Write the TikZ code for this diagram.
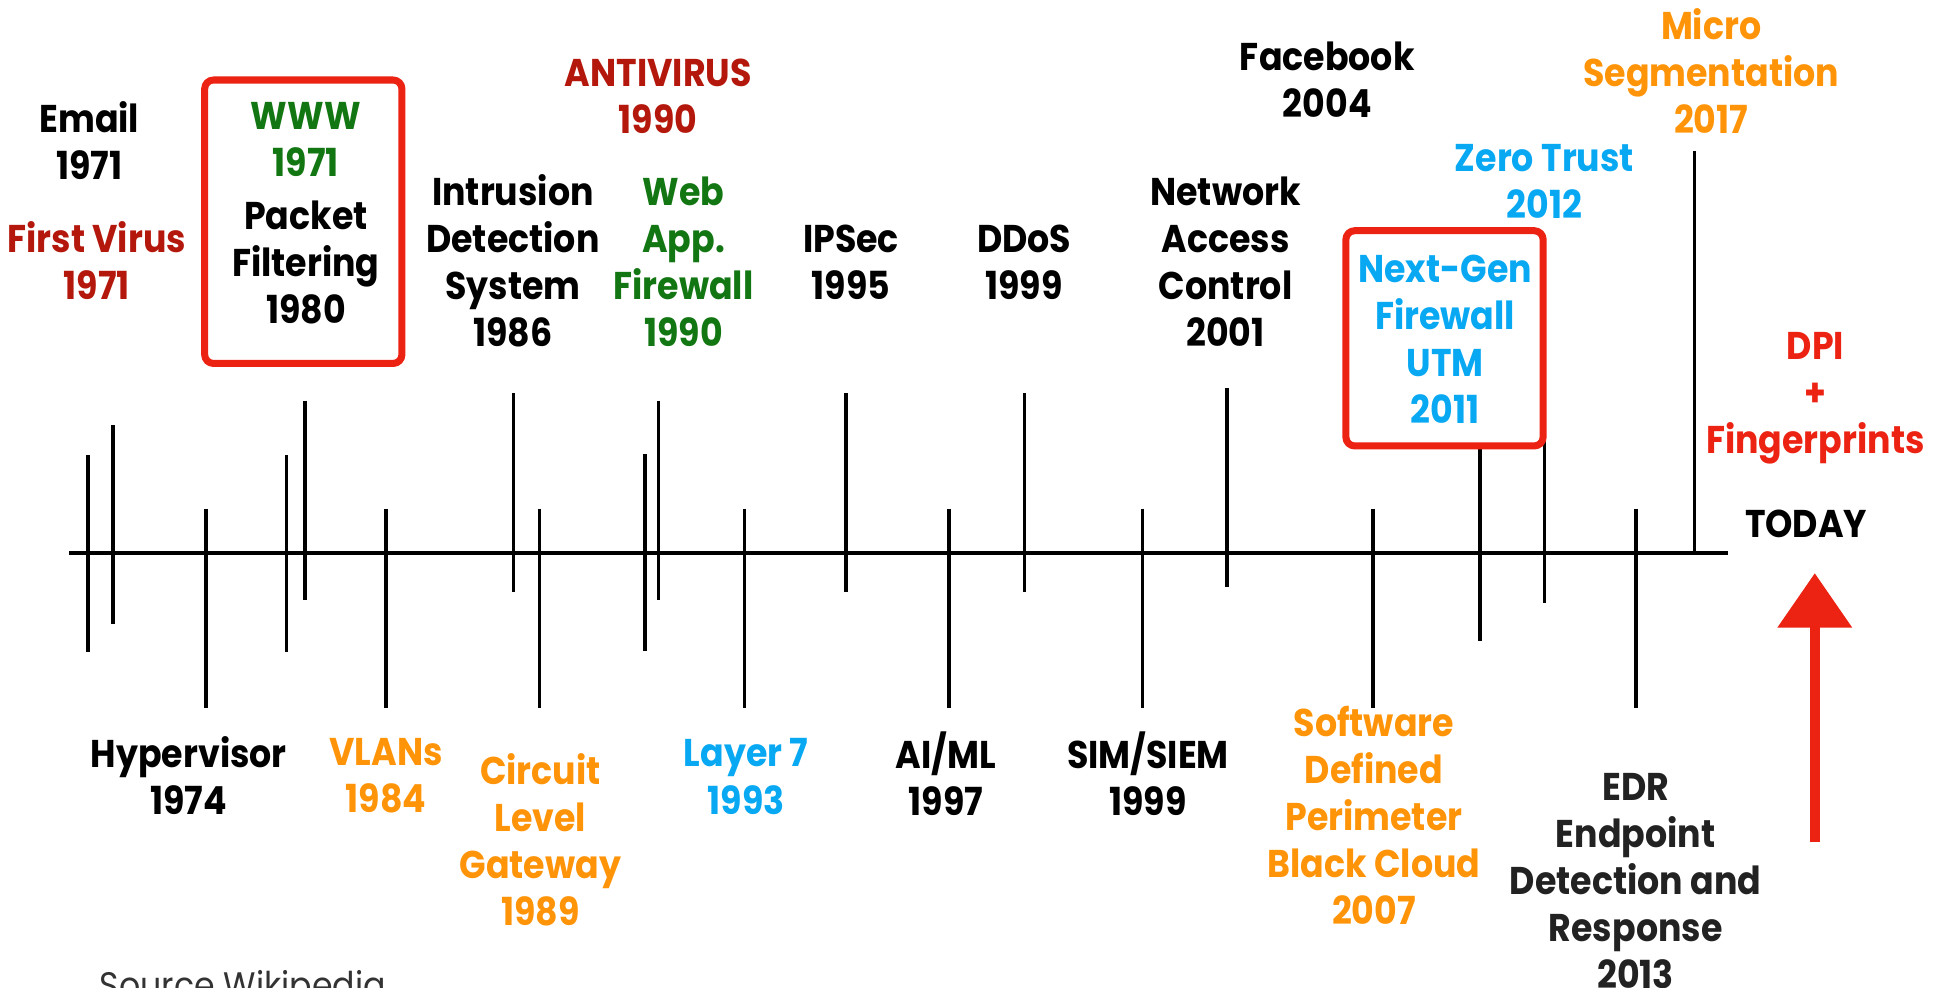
\documentclass[tikz,border=0pt]{standalone}
\usepackage{fontspec}
\setmainfont{Poppins}[FakeStretch=0.9]
\usetikzlibrary{arrows.meta}
\definecolor{virusred}{RGB}{180,24,12}
\definecolor{webgreen}{RGB}{18,118,18}
\definecolor{segorange}{RGB}{255,148,8}
\definecolor{trustblue}{RGB}{8,168,242}
\definecolor{markred}{RGB}{236,34,18}
\definecolor{edrgray}{RGB}{34,34,34}
\begin{document}
\begin{tikzpicture}[x=0.012404cm, y=-0.012404cm, line join=round,
    font=\bfseries\fontsize{11}{13.4}\selectfont,
    lbl/.style={align=center, inner sep=0pt},
    redbox/.style={draw=markred, line width=2pt, rounded corners=2.5pt},
    tick/.style={line width=1pt}]
    \useasboundingbox (0,0) rectangle (1568,796);
    \clip (0,0) rectangle (1568,796);
    \def\axis{446} % y of the time line
    \draw[tick, line width=1.2pt] (56,\axis) coordinate (start) -- (1393,\axis) coordinate (today);
    \foreach \x/\ya/\yb in {71/367/526, 91/343/503, 166/410/571, 231/367/526, 246/323/484,
        311/410/571, 414/317/477, 435/410/571, 520/366/525, 531/323/484, 600/410/571,
        682/317/477, 765/410/571, 826/317/477, 921/410/571, 989/313/473, 1107/410/571,
        1193/359/517, 1245/327/486, 1319/410/571}
        \draw[tick] (\x,\ya) -- (\x,\yb);
    \draw[tick] (1366,122) -- (1366,\axis);
    % above the line
    \node[lbl] (email) at (72,113.5) {Email\\1971};
    \node[lbl, text=virusred] (virus) at (78,210) {First Virus\\1971};
    \node[lbl] (www) at (246.6,172) {\textcolor{webgreen}{WWW}\\\textcolor{webgreen}{1971}\\[1.5pt]Packet\\Filtering\\1980};
    \draw[redbox] (165,64.5) rectangle (324,293);
    \node[lbl, text=virusred] (antivirus) at (530.6,77.5) {ANTIVIRUS\\1990};
    \node[lbl] (ids) at (413.5,210.5) {Intrusion\\Detection\\System\\1986};
    \node[lbl, text=webgreen] (waf) at (551,211) {Web\\App.\\Firewall\\1990};
    \node[lbl] (ipsec) at (686,211.5) {IPSec\\1995};
    \node[lbl] (ddos) at (825.6,211.5) {DDoS\\1999};
    \node[lbl] (nac) at (988,211) {Network\\Access\\Control\\2001};
    \node[lbl] (facebook) at (1070,64.5) {Facebook\\2004};
    \node[lbl, text=segorange] (microseg) at (1379.5,57.2) {Micro\\Segmentation\\2017};
    \node[lbl, text=trustblue] (zerotrust) at (1245,146) {Zero Trust\\2012};
    \node[lbl, text=trustblue] (ngfw) at (1165,273.5) {Next-Gen\\Firewall\\UTM\\2011};
    \draw[redbox] (1085,186) rectangle (1244,359.5);
    \node[lbl, text=markred] (dpi) at (1463.5,321) {DPI\\+\\Fingerprints};
    \node[lbl] (todaylbl) at (1456,422) {TODAY};
    % below the line
    \node[lbl] (hyper) at (152.2,625.4) {Hypervisor\\1974};
    \node[lbl, text=segorange] (vlans) at (311.2,625.4) {VLANs\\1984};
    \node[lbl, text=segorange] (circuit) at (435.6,677) {Circuit\\Level\\Gateway\\1989};
    \node[lbl, text=trustblue] (layer) at (601.6,626) {Layer 7\\1993};
    \node[lbl] (aiml) at (762.7,624) {AI/ML\\1997};
    \node[lbl] (siem) at (925.5,624) {SIM/SIEM\\1999};
    \node[lbl, text=segorange] (sdp) at (1107.6,657.5) {Software\\Defined\\Perimeter\\Black Cloud\\2007};
    \node[lbl, text=edrgray] (edr) at (1318.6,710.5) {EDR\\Endpoint\\Detection and\\Response\\2013};
    % arrow towards today
    \coordinate (arrowtail) at (1463,679);
    \coordinate (arrowtip) at (1463,462);
    \draw[markred, line width=3pt, -{Triangle[width=20.5pt,length=15.5pt]}] (arrowtail) -- (arrowtip);
    \node[anchor=base west, inner sep=0pt, font=\mdseries\fontsize{10.5}{12}\selectfont, text=black!80] (source) at (80,805) {Source Wikipedia};
\end{tikzpicture}
\end{document}
